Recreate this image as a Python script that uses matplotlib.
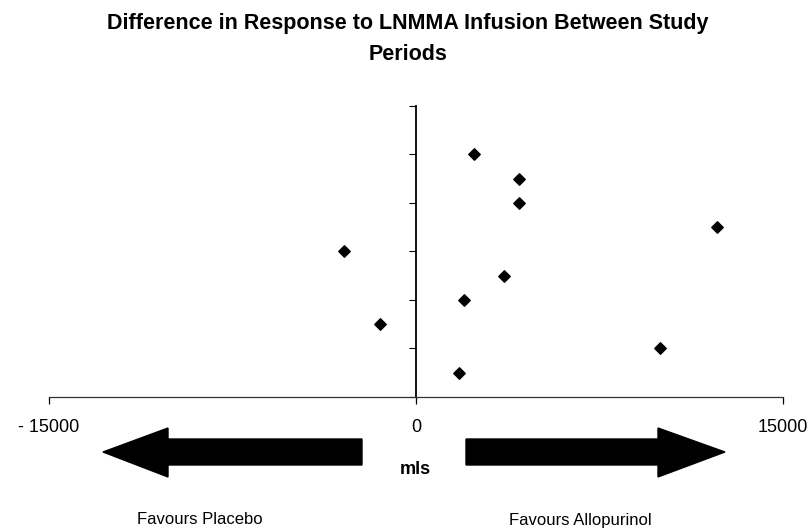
import matplotlib
matplotlib.use('Agg')
import matplotlib.pyplot as plt
from matplotlib.patches import Polygon

plt.rcParams.update({'font.family': ['Liberation Sans', 'DejaVu Sans']})

# difference in response (mls), one point per subject, stacked upwards
diff_mls = [1770, 9970, -1470, 1970, 3600, -2930, 12290, 4210, 4210, 2370]
subject = [1, 2, 3, 4, 5, 6, 7, 8, 9, 10]

x_ticks = [-15000, 0, 15000]
x_tick_labels = ['- 15000', '0', '15000']
y_ticks = [0, 2, 4, 6, 8, 10, 12]

fig = plt.figure(figsize=(8.08, 5.32), dpi=100)
ax = fig.add_axes([49 / 808, 1 - 397 / 532, (783 - 49) / 808, (397 - 105.7) / 532])

ax.scatter(diff_mls, subject, marker='D', s=34, color='black', zorder=3)

ax.set_xlim(-15000, 15000)
ax.set_ylim(0, 12)
ax.set_xticks(x_ticks)
ax.set_xticklabels(x_tick_labels, fontsize=13)
ax.set_yticks(y_ticks)
ax.set_yticklabels([])

ax.spines['top'].set_visible(False)
ax.spines['right'].set_visible(False)
ax.spines['left'].set_position(('data', 0))
ax.spines['left'].set_linewidth(1.3)
ax.spines['bottom'].set_linewidth(0.9)
ax.spines['bottom'].set_color('#333333')
ax.tick_params(axis='x', direction='out', length=5, width=0.9, pad=11)
ax.tick_params(axis='y', direction='out', length=5, width=0.8)

fig.suptitle('Difference in Response to LNMMA Infusion Between Study\nPeriods',
             x=0.505, y=1 - 13 / 532, va='top', fontsize=15.5, fontweight='bold', linespacing=1.6)

# block arrows in figure pixel coordinates (y measured from top)
H = 532.0
left_arrow = [(103, 452), (168, 428), (168, 439), (362, 439), (362, 465), (168, 465), (168, 477)]
right_arrow = [(725, 452), (658, 428), (658, 439), (466, 439), (466, 465), (658, 465), (658, 477)]
for pts in (left_arrow, right_arrow):
    fig.patches.append(Polygon([(px / 808, 1 - py / H) for px, py in pts], closed=True,
                               facecolor='black', edgecolor='black', transform=fig.transFigure))

fig.text(415 / 808, 1 - 470 / H, 'mls', ha='center', va='center', fontsize=13, fontweight='bold')
fig.text(200 / 808, 1 - 520 / H, 'Favours Placebo', ha='center', va='center', fontsize=12)
fig.text(580 / 808, 1 - 520 / H, 'Favours Allopurinol', ha='center', va='center', fontsize=12)

plt.savefig('out.png', dpi=100)
